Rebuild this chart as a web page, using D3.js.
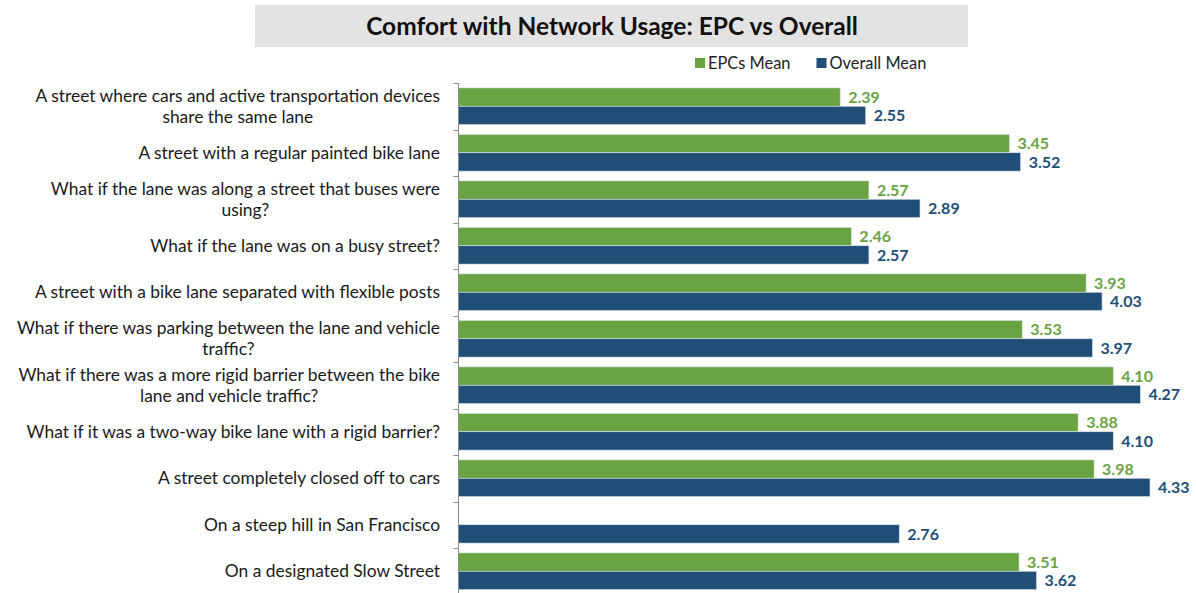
<!DOCTYPE html>
<html>
<head>
<meta charset="utf-8">
<script src="https://cdn.jsdelivr.net/npm/d3@7"></script>
<style>
  html, body { margin: 0; padding: 0; background: #fff; }
  svg { display: block; }
</style>
</head>
<body>
<svg id="chart" width="1196" height="593"></svg>
<script>
// ---- data ----
const categories = [
  "A street where cars and active transportation devices\nshare the same lane",
  "A street with a regular painted bike lane",
  "What if the lane was along a street that buses were\nusing?",
  "What if the lane was on a busy street?",
  "A street with a bike lane separated with flexible posts",
  "What if there was parking between the lane and vehicle\ntraffic?",
  "What if there was a more rigid barrier between the bike\nlane and vehicle traffic?",
  "What if it was a two-way bike lane with a rigid barrier?",
  "A street completely closed off to cars",
  "On a steep hill in San Francisco",
  "On a designated Slow Street"
];
const epcMean = [2.39, 3.45, 2.57, 2.46, 3.93, 3.53, 4.10, 3.88, 3.98, null, 3.51];
const overallMean = [2.55, 3.52, 2.89, 2.57, 4.03, 3.97, 4.27, 4.10, 4.33, 2.76, 3.62];
const seriesNames = ["EPCs Mean", "Overall Mean"];
const seriesColors = ["#6aa342", "#214e77"];
const title = "Comfort with Network Usage: EPC vs Overall";

// ---- layout ----
const svg = d3.select("#chart");
const axisX = 458.5;
const plotTop = 83, plotBottom = 594.5;
const font = "Lato, 'Open Sans', sans-serif";

const x = d3.scaleLinear().domain([0, 5]).range([axisX, axisX + 159.7 * 5]);
const y = d3.scaleBand().domain(d3.range(categories.length)).range([plotTop, plotBottom])
  .paddingInner(0.21).paddingOuter(0.105);
const ySub = d3.scaleBand().domain([0, 1]).range([0, y.bandwidth()]);

// title box
svg.append("rect").attr("x", 255).attr("y", 5).attr("width", 713).attr("height", 42)
  .attr("fill", "#e3e3e3");
svg.append("text").attr("x", 612).attr("y", 34.5)
  .attr("text-anchor", "middle").attr("font-family", font).attr("font-weight", "bold")
  .attr("font-size", 24.5).attr("fill", "#111").text(title);

// legend
const legendX = [695, 816.5];
seriesNames.forEach((name, i) => {
  svg.append("rect").attr("x", legendX[i]).attr("y", 58).attr("width", 10).attr("height", 10)
    .attr("fill", seriesColors[i]);
  svg.append("text").attr("x", legendX[i] + 13).attr("y", 63.3).attr("dy", "0.35em")
    .attr("font-family", font).attr("font-size", 16.4).attr("fill", "#222").text(name);
});

// bars
const rows = categories.map((c, i) => ({ i, values: [epcMean[i], overallMean[i]] }));
const g = svg.append("g");
rows.forEach(r => {
  r.values.forEach((v, s) => {
    if (v == null) return;
    const by = y(r.i) + ySub(s);
    g.append("rect").attr("x", x(0)).attr("y", by)
      .attr("width", x(v) - x(0)).attr("height", ySub.bandwidth())
      .attr("fill", seriesColors[s]).attr("stroke", "#dfe8f0").attr("stroke-width", 0.6);
    g.append("text").attr("x", x(v) + 8).attr("y", by + ySub.bandwidth() / 2).attr("dy", "0.36em")
      .attr("font-family", font).attr("font-weight", "bold").attr("font-size", 16)
      .attr("fill", seriesColors[s]).text(v.toFixed(2));
  });
});

// axis (category)
const boundaries = d3.range(categories.length + 1).map(i => plotTop + i * (plotBottom - plotTop) / categories.length);
svg.append("line").attr("x1", axisX).attr("x2", axisX).attr("y1", plotTop).attr("y2", 593)
  .attr("stroke", "#8c8c8c").attr("stroke-width", 1);
boundaries.forEach(b => {
  svg.append("line").attr("x1", axisX - 5).attr("x2", axisX).attr("y1", Math.round(b) + 0.5).attr("y2", Math.round(b) + 0.5)
    .attr("stroke", "#8c8c8c").attr("stroke-width", 1);
});

// category labels
const labelRight = 440;
categories.forEach((c, i) => {
  const lines = c.split("\n");
  const cy = y(i) + y.bandwidth() / 2;
  const lh = 21;
  const t = svg.append("text").attr("font-family", font).attr("font-size", 17.4).attr("fill", "#1a1a1a");
  const spans = lines.map((ln, k) => t.append("tspan").attr("y", cy + (k - (lines.length - 1) / 2) * lh)
    .attr("dy", "0.35em").text(ln));
  const widths = spans.map(sp => sp.node().getComputedTextLength());
  const maxW = d3.max(widths);
  const center = labelRight - maxW / 2;
  spans.forEach(sp => sp.attr("x", center).attr("text-anchor", "middle"));
});
</script>
</body>
</html>
